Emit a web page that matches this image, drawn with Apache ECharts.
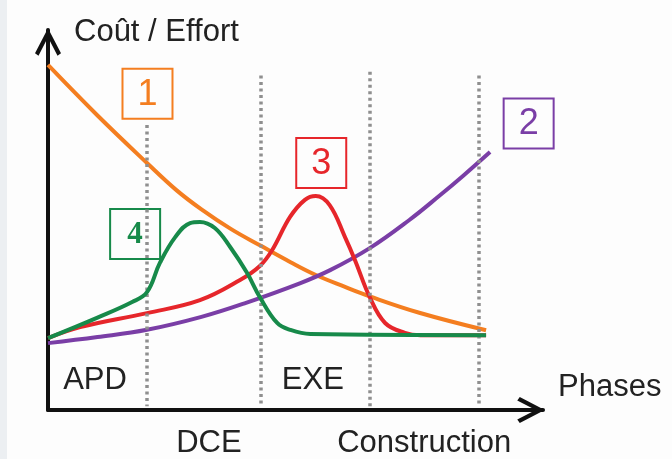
<!DOCTYPE html>
<html>
<head>
<meta charset="utf-8">
<title>Coût / Effort</title>
<script src="https://cdn.jsdelivr.net/npm/echarts@6/dist/echarts.min.js"></script>
</head>
<body style="margin:0;background:#fdfdfd">
<div id="chartmain" style="width:672px;height:459px;"></div>
<script type="text/javascript">
var courbe1 = [[0, 90.8], [10, 77.5], [20, 65], [26, 57.8], [31, 52.8], [37, 47.6], [43, 43.2], [49, 38.9], [54, 35.6], [60, 32.4], [65, 29.9], [75, 25.6], [88.5, 21]];
var courbe2 = [[0, 17.6], [10, 19.2], [20, 21.1], [31, 24.5], [40, 28.2], [51, 33.4], [57, 36.8], [65, 42.6], [73, 50], [79, 56.3], [84, 61.8], [89.3, 67.9]];
var courbe3 = [[0, 18.9], [6.5, 21.8], [20, 25.5], [30.7, 28.9], [38.8, 34.2], [42.8, 37.9], [45.3, 42.1], [48.9, 50.8], [51.9, 55.3], [54.1, 56.3], [56.9, 53.9], [60, 45.5], [62, 39.5], [65, 29.7], [68.1, 22.9], [72.1, 20.3], [75.2, 19.7], [88.5, 19.7]];
var courbe4 = [[0, 18.9], [10, 24.3], [17, 28.4], [20, 31], [22.6, 38.7], [25.7, 45.5], [28.7, 49.2], [30.7, 49.5], [33.7, 47.9], [36.8, 42.9], [40.2, 36.1], [42.8, 29.7], [46.3, 22.9], [48.9, 21.1], [53, 20], [88.5, 19.7]];

var couleurs = ['#f47e20', '#7a3ea6', '#e6262b', '#178a4a'];
var numeros = ['1', '2', '3', '4'];
var placeNumeros = [[20.1, 83.2], [97.1, 75.4], [55.2, 65], [17.6, 46.3]];

// phases du projet
var limitesPhases = [20, 43, 65, 87];
var hautPointilles = [75, 88, 89, 88];
var nomsPhases = ['APD', 'DCE', 'EXE', 'Construction'];
var centresPhases = [9.5, 32.5, 53.5, 76];
var niveauxPhases = [7.9, -8.7, 7.9, -8.7];

var fleche = 'path://M13,0 L26,25 L22.5,27.5 L13,9 L3.5,27.5 L0,25 Z';
var police = '"Liberation Sans", Arial, sans-serif';

var myChart = echarts.init(document.getElementById('chartmain'));

var axe = {
    type: 'value', min: 0, max: 100,
    axisLine: {
        lineStyle: { color: '#111', width: 4 },
        symbol: ['none', fleche],
        symbolSize: [26, 28],
        symbolOffset: [0, -12]
    },
    axisTick: { show: false },
    axisLabel: { show: false },
    splitLine: { show: false }
};

var series = [{
    type: 'line', data: [], z: 1,
    markLine: {
        silent: true, symbol: ['none', 'none'], label: { show: false },
        lineStyle: { type: [3, 3.5], width: 3.5, color: '#8f8f8f' },
        data: limitesPhases.map(function (x, i) {
            return [{ coord: [x, hautPointilles[i]] }, { coord: [x, 1] }];
        })
    }
}];
[courbe1, courbe2, courbe3, courbe4].forEach(function (d, i) {
    series.push({
        type: 'line', data: d, smooth: 0.4, symbol: 'none', z: 2 + i,
        lineStyle: { width: 4, color: couleurs[i] }
    });
});

myChart.setOption({
    backgroundColor: '#fdfdfd',
    animation: false,
    grid: { left: 48, right: 129, top: 30, bottom: 49 },
    xAxis: axe,
    yAxis: axe,
    series: series
});

// textes et cadres placés avec les échelles du graphique
var elements = [{
    type: 'rect', left: 0, top: 0, z: -1,
    shape: { width: 7, height: 459 }, style: { fill: '#eceff2' }
}];
var fin = myChart.convertToPixel({ gridIndex: 0 }, [0, 100]);
elements.push({
    type: 'text', x: fin[0] + 26, y: fin[1] + 2,
    style: { text: 'Coût / Effort', font: '31px ' + police, fill: '#222', textVerticalAlign: 'middle' }
});
var finX = myChart.convertToPixel({ gridIndex: 0 }, [100, 0]);
elements.push({
    type: 'text', x: finX[0] + 15, y: finX[1] - 23,
    style: { text: 'Phases', font: '31px ' + police, fill: '#222', textVerticalAlign: 'middle' }
});
nomsPhases.forEach(function (n, i) {
    var p = myChart.convertToPixel({ gridIndex: 0 }, [centresPhases[i], niveauxPhases[i]]);
    elements.push({
        type: 'text', x: p[0], y: p[1],
        style: { text: n, font: '31px ' + police, fill: '#222', textAlign: 'center', textVerticalAlign: 'middle' }
    });
});
numeros.forEach(function (n, i) {
    var p = myChart.convertToPixel({ gridIndex: 0 }, placeNumeros[i]);
    var serif = i === 3;
    elements.push({
        type: 'group', x: p[0], y: p[1], z: 10,
        children: [{
            type: 'rect', shape: { x: -25, y: -25, width: 50, height: 50 },
            style: { fill: '#fdfdfd', stroke: couleurs[i], lineWidth: 2 }
        }, {
            type: 'text', x: 0, y: 1,
            style: {
                text: n,
                font: serif ? 'bold 31px "Liberation Serif", serif' : '36px ' + police,
                fill: couleurs[i], textAlign: 'center', textVerticalAlign: 'middle'
            }
        }]
    });
});
myChart.setOption({ graphic: elements });
</script>
</body>
</html>
